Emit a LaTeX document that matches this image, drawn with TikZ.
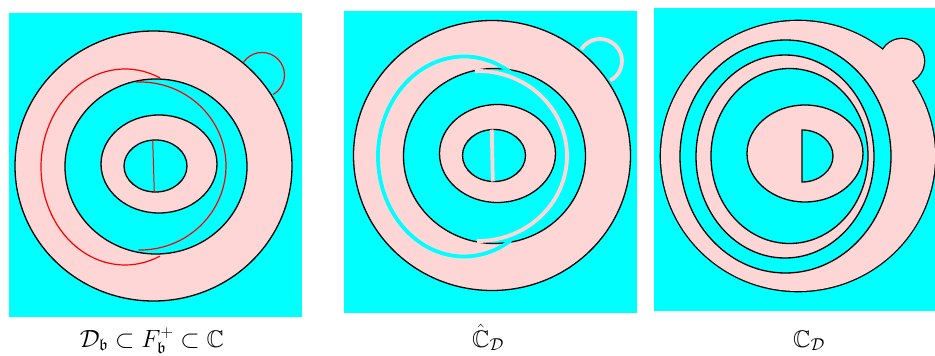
\documentclass[tikz,border=0pt]{standalone}
\usepackage{amsmath}
\usepackage{amssymb}
\usepackage{tikz}
\usetikzlibrary{calc}
\definecolor{SeaC}{HTML}{00FFFF}
\definecolor{RoseP}{HTML}{FFD6D6}
\definecolor{CutR}{HTML}{FF0000}

\begin{document}
\begin{tikzpicture}[x=1pt, y=-1pt,
    rim/.style={draw=black, line width=1.3pt},
    land/.style={rim, fill=RoseP},
    sea/.style={rim, fill=SeaC},
    cut/.style={draw=CutR, line width=1.2pt},
    fatcut/.style={line width=3.8pt},
    lbl/.style={anchor=base, font=\fontsize{24}{28}\selectfont}]
  \useasboundingbox (0,0) rectangle (935,356);

  \fill[SeaC] (9,13) rectangle (302,317);
  \fill[SeaC] (344,11) rectangle (637,313);
  \fill[SeaC] (654,8) rectangle (935,311);

  \foreach \dx/\dy in {0/0, 338.5/-10.5} {
    \begin{scope}[shift={(\dx,\dy)}]
      \path[land] (153.5,166) ellipse[x radius=138.5, y radius=135];
      \path[sea] (156,166.5) ellipse[x radius=91, y radius=87.5];
      \path[land] (159,164) ellipse[x radius=58, y radius=49];
      \path[sea] (155.5,166) ellipse[x radius=31.5, y radius=26];
    \end{scope}
  }

  \draw[cut, shift={(125,167)}] (-65.4:84 and 98)
    arc[start angle=-65.4, end angle=-294.6, x radius=84, y radius=98];
  \draw[cut, shift={(140,166)}] (-92.7:86 and 84)
    arc[start angle=-92.7, end angle=91, x radius=86, y radius=84];
  \draw[cut, shift={(262,75)}] (-146:22.5)
    arc[start angle=-146, end angle=60, radius=22.5];
  \draw[cut, line width=1pt] (152.7,140) -- (154.3,192);

  \draw[fatcut, SeaC, shift={(464,156.5)}] (-56:86 and 100)
    arc[start angle=-56, end angle=-303, x radius=86, y radius=100];
  \draw[fatcut, RoseP, shift={(478,156)}] (-92:89 and 85)
    arc[start angle=-92, end angle=90.5, x radius=89, y radius=85];
  \draw[fatcut, RoseP, shift={(600,61)}] (-148:22)
    arc[start angle=-148, end angle=62, radius=22];
  \draw[fatcut, RoseP] (491.8,129.5) -- (492.8,181.5);

  \path[rim, line width=2.6pt] (798,156) ellipse[x radius=137, y radius=135];
  \path[rim, line width=2.6pt] (902,61) circle[radius=22];
  \fill[RoseP] (798,156) ellipse[x radius=137, y radius=135];
  \fill[RoseP] (902,61) circle[radius=22];
  \path[sea] (785.5,156.5) ellipse[x radius=105.5, y radius=116.5];
  \path[land] (785,156.5) ellipse[x radius=89, y radius=101.5];
  \path[sea] (789.5,156) ellipse[x radius=78.5, y radius=87.5];
  \path[land] (805,153.5) ellipse[x radius=58, y radius=48.5];
  \path[sea] (802,130) -- (802,182)
    arc[start angle=90, end angle=-90, x radius=31, y radius=26] -- cycle;

  \node[lbl] (capA) at (152,347)
    {$\mathcal{D}_{\mathfrak{b}} \subset F^{+}_{\mathfrak{b}} \subset \mathbb{C}$};
  \node[lbl] (capB) at (488,347) {$\hat{\mathbb{C}}_{\mathcal{D}}$};
  \node[lbl] (capC) at (809,347) {$\mathbb{C}_{\mathcal{D}}$};
\end{tikzpicture}
\end{document}
